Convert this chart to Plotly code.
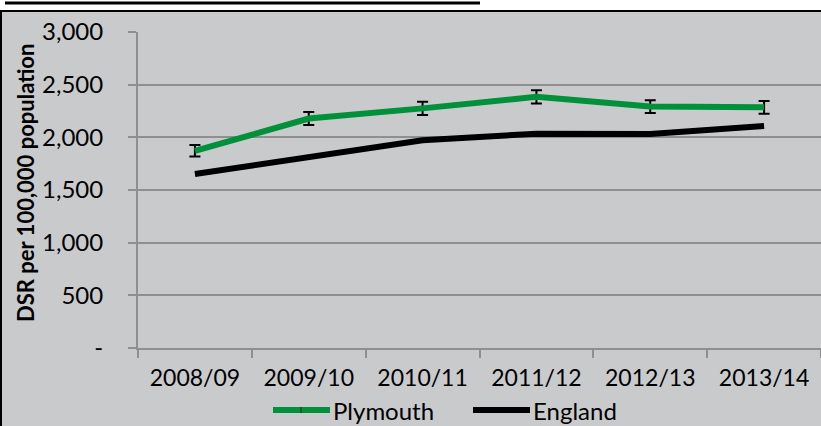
import plotly.graph_objects as go

years = ['2008/09', '2009/10', '2010/11', '2011/12', '2012/13', '2013/14']
plymouth = [1872, 2178, 2275, 2385, 2292, 2285]
plymouth_ci = [55, 62, 62, 63, 60, 60]
england = [1652, 1815, 1972, 2035, 2032, 2108]

y_ticks = [0, 500, 1000, 1500, 2000, 2500, 3000]
y_labels = ['-', '500', '1,000', '1,500', '2,000', '2,500', '3,000']

bg = '#C9CACC'
grid = '#8F8F8F'
green = '#00913A'
font = 'Lato'

# plot area in pixels: x 138..821, y 32..348
L, T, W, H = 138, 32, 683, 316
def px(x):
    return (x - L) / W
def py(y):
    return (T + H - y) / H

fig = go.Figure()
fig.add_trace(go.Scatter(x=years, y=plymouth, name='Plymouth', mode='lines',
                         line=dict(color=green, width=6),
                         error_y=dict(type='data', array=plymouth_ci, visible=True,
                                      color='black', thickness=2, width=5.5)))
fig.add_trace(go.Scatter(x=years, y=england, name='England', mode='lines',
                         line=dict(color='black', width=6)))

# chart panel (grey with black border) and the cut-off title underline
fig.add_shape(type='rect', xref='paper', yref='paper', x0=px(1), x1=px(823),
              y0=py(430), y1=py(11), fillcolor=bg, line=dict(color='black', width=2),
              layer='below')
fig.add_shape(type='line', xref='paper', yref='paper', x0=px(5), x1=px(480),
              y0=py(3), y1=py(3), line=dict(color='black', width=3))

fig.add_annotation(text='<b>DSR per 100,000 population</b>', textangle=-90,
                   xref='paper', yref='paper', x=px(25), y=py(183),
                   xanchor='center', yanchor='middle', showarrow=False,
                   font=dict(family=font, size=22, color='black'))

# legend drawn below the axis
legend_items = [('Plymouth', green, 273), ('England', 'black', 473)]
for name, col, x0 in legend_items:
    fig.add_shape(type='line', xref='paper', yref='paper', x0=px(x0), x1=px(x0 + 57),
                  y0=py(410), y1=py(410), line=dict(color=col, width=6))
    fig.add_annotation(text=name, xref='paper', yref='paper', x=px(x0 + 58), y=py(410),
                       xanchor='left', yanchor='middle', showarrow=False,
                       font=dict(family=font, size=24, color='black'))
fig.add_shape(type='line', xref='paper', yref='paper', x0=px(301), x1=px(301),
              y0=py(407), y1=py(413), line=dict(color='#005020', width=1.5))

fig.update_xaxes(type='category', range=[-0.5, 5.5], automargin=False,
                 showline=True, linecolor=grid, linewidth=2,
                 ticks='outside', tickson='boundaries', ticklen=8, tickcolor=grid,
                 tickwidth=2, showgrid=False, ticklabelstandoff=8,
                 tickfont=dict(family=font, size=23, color='black'))
fig.update_yaxes(range=[0, 3000], tickvals=y_ticks, ticktext=y_labels, automargin=False,
                 showline=True, linecolor=grid, linewidth=2, ticks='outside',
                 ticklen=8, tickcolor=grid, tickwidth=2, showgrid=True,
                 gridcolor=grid, gridwidth=2, zeroline=False, ticklabelstandoff=20,
                 tickfont=dict(family=font, size=24, color='black'))
fig.update_layout(width=821, height=426,
                  margin=dict(l=L, r=821 - L - W, t=T, b=426 - T - H),
                  paper_bgcolor='white', plot_bgcolor=bg,
                  showlegend=False)

fig.write_html("out.html", config={'displayModeBar': False},
               post_script="document.body.style.margin='0';")
